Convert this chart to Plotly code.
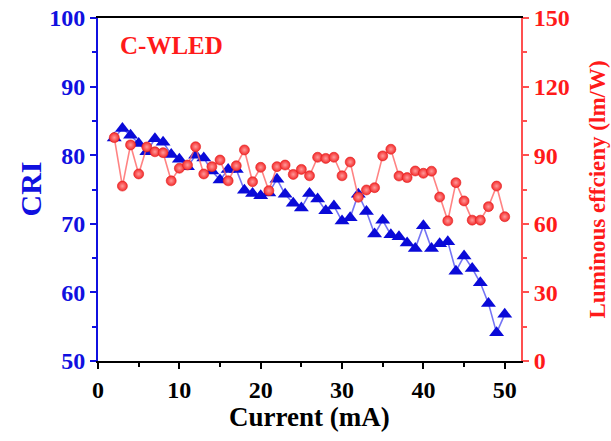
import plotly.graph_objects as go

current = list(range(2, 51))
cri = [82.5, 83.9, 82.9, 81.7, 80.5, 82.4, 81.9, 80.1, 79.4, 78.3,
       80.0, 79.6, 77.7, 76.4, 77.9, 77.9, 74.9, 74.4, 74.1, 74.5,
       76.5, 74.3, 73.0, 72.3, 74.4, 73.6, 71.9, 72.6, 70.4, 70.9,
       74.3, 71.8, 68.5, 70.5, 68.4, 68.1, 67.2, 66.4, 69.7, 66.4,
       67.1, 67.4, 63.1, 65.3, 63.5, 61.4, 58.4, 54.1, 56.8]
efficiency = [97.7, 76.5, 94.5, 81.8, 93.6, 91.5, 91.1, 78.8, 84.3, 85.7,
              93.7, 81.8, 85.0, 87.9, 78.8, 85.4, 92.3, 78.4, 84.7, 74.5,
              85.0, 85.7, 81.6, 83.8, 81.0, 89.1, 88.6, 89.1, 81.0, 87.0,
              71.6, 74.8, 75.8, 89.7, 92.6, 80.9, 80.2, 83.1, 82.1, 83.0,
              71.7, 61.3, 78.0, 70.0, 61.6, 61.6, 67.5, 76.5, 63.1]

cri_ticks = [50, 60, 70, 80, 90, 100]
eff_ticks = [0, 30, 60, 90, 120, 150]
x_ticks = [0, 10, 20, 30, 40, 50]

FONT = "Liberation Serif"
BLUE = "#1010e0"
RED = "#ff1a1a"

fig = go.Figure()
fig.add_trace(go.Scatter(
    x=current, y=cri, mode="lines+markers", yaxis="y",
    line=dict(color="rgba(70,70,240,0.75)", width=1.6),
    marker=dict(symbol="triangle-up", size=13, color="#0a0ad8",
                line=dict(width=0)),
    showlegend=False))
fig.add_trace(go.Scatter(
    x=current, y=efficiency, mode="lines+markers", yaxis="y2",
    line=dict(color="rgba(255,100,100,0.8)", width=1.6),
    marker=dict(symbol="circle", size=10, color="#f42a2a",
                gradient=dict(type="radial", color="#ff9a9a"),
                line=dict(width=0.6, color="#e02020")),
    showlegend=False))

fig.update_layout(
    width=611, height=441,
    margin=dict(l=98, r=90, t=18, b=80),
    plot_bgcolor="white", paper_bgcolor="white",
    font=dict(family=FONT, weight="bold"),
    xaxis=dict(
        range=[0, 52], tickvals=x_ticks, ticks="outside", ticklen=6, tickwidth=2,
        tickcolor="black", showline=True, linecolor="black", linewidth=2,
        mirror=True, showgrid=False, zeroline=False, automargin=False,
        ticklabeloverflow="allow",
        tickfont=dict(family=FONT, size=24, color="black", weight="bold"),
        minor=dict(dtick=5, ticks="outside", ticklen=4, tickwidth=2, tickcolor="black")),
    yaxis=dict(
        range=[50, 100], tickvals=cri_ticks, ticks="outside", ticklen=6, tickwidth=2,
        tickcolor=BLUE, showline=True, linecolor=BLUE, linewidth=2,
        showgrid=False, zeroline=False, automargin=False,
        ticklabeloverflow="allow",
        tickfont=dict(family=FONT, size=24, color=BLUE, weight="bold"),
        minor=dict(dtick=5, ticks="outside", ticklen=4, tickwidth=2, tickcolor=BLUE)),
    yaxis2=dict(
        range=[0, 150], tickvals=eff_ticks, overlaying="y", side="right",
        ticks="outside", ticklen=6, tickwidth=2, tickcolor="#ff5050",
        showline=True, linecolor="#ff5050", linewidth=2,
        showgrid=False, zeroline=False, automargin=False,
        ticklabeloverflow="allow",
        tickfont=dict(family=FONT, size=24, color=RED, weight="bold"),
        minor=dict(dtick=15, ticks="outside", ticklen=4, tickwidth=2, tickcolor="#ff5050")),
    annotations=[
        dict(text="C-WLED", xref="paper", yref="paper", x=0.047, y=0.921,
             xanchor="left", yanchor="middle", showarrow=False,
             font=dict(family=FONT, size=25, color=RED, weight="bold")),
        dict(text="Current (mA)", xref="paper", yref="paper", x=0.5, y=0,
             yshift=-56, xanchor="center", yanchor="middle", showarrow=False,
             font=dict(family=FONT, size=27, color="black", weight="bold")),
        dict(text="CRI", xref="paper", yref="paper", x=0, y=0.5, xshift=-68,
             textangle=-90, xanchor="center", yanchor="middle", showarrow=False,
             font=dict(family=FONT, size=30, color=BLUE, weight="bold")),
        dict(text="Luminous effcieny (lm/W)", xref="paper", yref="paper", x=1, y=0.5,
             xshift=76, textangle=-90, xanchor="center", yanchor="middle", showarrow=False,
             font=dict(family=FONT, size=23, color=RED, weight="bold")),
    ],
)

fig.write_html("out.html", config={"displayModeBar": False},
               post_script="document.body.style.margin='0';")
